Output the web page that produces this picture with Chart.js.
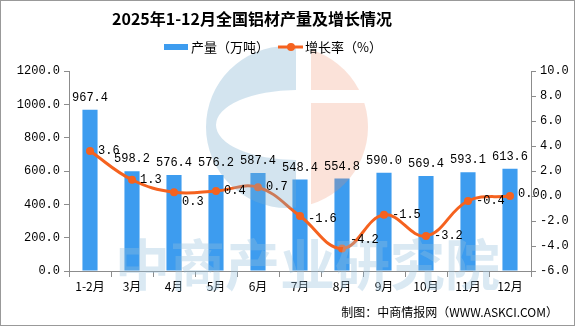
<!DOCTYPE html>
<html>
<head>
<meta charset="utf-8">
<script src="https://cdn.jsdelivr.net/npm/chart.js@4"></script>
<style>
  html, body { margin: 0; padding: 0; background: #fff; }
  #wrap { width: 575px; height: 326px; position: relative; box-sizing: border-box; }
</style>
</head>
<body>
<div id="wrap"><canvas id="chart" width="575" height="326"></canvas></div>
<script>
// data
var months = ["1-2月", "3月", "4月", "5月", "6月", "7月", "8月", "9月", "10月", "11月", "12月"];
var output = [967.4, 598.2, 576.4, 576.2, 587.4, 548.4, 554.8, 590.0, 569.4, 593.1, 613.6];
var growth = [3.6, 1.3, 0.3, 0.4, 0.7, -1.6, -4.2, -1.5, -3.2, -0.4, 0.0];

var chartTitle = "2025年1-12月全国铝材产量及增长情况";
var barName = "产量（万吨）";
var lineName = "增长率（%）";
var footer = "制图：中商情报网（WWW.ASKCI.COM）";
var watermark = "中商产业研究院";

var BLUE = "#3d9cef";
var ORANGE = "#f5621f";
var AXIS = "#8c8c8c";
var numFont = "'Liberation Mono', 'DejaVu Sans Mono', monospace";
var cjkFont = "'Noto Sans CJK SC', sans-serif";

// faint logo + watermark drawn over the bars
function drawLogo(ctx) {
    var cx = 287, cy = 127, r = 81;
    ctx.save();
    // blue C
    ctx.beginPath();
    ctx.rect(0, 0, 296, 326);
    ctx.clip();
    ctx.beginPath();
    ctx.arc(cx, cy, r, 0, Math.PI * 2);
    ctx.ellipse(296, 125, 80, 35, 0, 0, Math.PI * 2);
    ctx.fillStyle = "rgba(120, 172, 205, 0.33)";
    ctx.fill('evenodd');
    ctx.restore();

    // peach half
    ctx.save();
    ctx.beginPath();
    ctx.rect(311, 0, 100, 90);
    ctx.rect(311, 103, 100, 200);
    ctx.clip();
    ctx.beginPath();
    ctx.arc(cx, cy, r, 0, Math.PI * 2);
    ctx.fillStyle = "rgba(240, 140, 105, 0.25)";
    ctx.fill();
    ctx.restore();
}

var decorPlugin = {
    id: 'decor',
    afterDatasetsDraw: function(chart) {
        var ctx = chart.ctx;
        drawLogo(ctx);
        ctx.save();
        ctx.fillStyle = "rgba(150, 192, 222, 0.35)";
        ctx.font = "bold 55px " + cjkFont;
        ctx.textAlign = "left";
        ctx.textBaseline = "middle";
        ctx.fillText(watermark, 115, 264);
        ctx.restore();
    },
    afterDraw: function(chart) {
        var ctx = chart.ctx;
        ctx.save();
        // border
        ctx.strokeStyle = "#999";
        ctx.lineWidth = 1;
        ctx.strokeRect(0.5, 0.5, 574, 325);

        // title
        ctx.fillStyle = "#000";
        ctx.font = "bold 16px " + cjkFont;
        ctx.textAlign = "center";
        ctx.textBaseline = "middle";
        ctx.fillText(chartTitle, 252, 19);

        // legend
        ctx.font = "13px " + cjkFont;
        ctx.textAlign = "left";
        ctx.fillStyle = BLUE;
        ctx.fillRect(164, 44, 24, 6);
        ctx.fillStyle = "#000";
        ctx.fillText(barName, 191, 47);
        ctx.strokeStyle = ORANGE;
        ctx.lineWidth = 3;
        ctx.beginPath();
        ctx.moveTo(278, 47);
        ctx.lineTo(303, 47);
        ctx.stroke();
        ctx.fillStyle = ORANGE;
        ctx.beginPath();
        ctx.arc(291, 47, 4, 0, Math.PI * 2);
        ctx.fill();
        ctx.fillStyle = "#000";
        ctx.fillText(lineName, 305, 47);

        // footer
        ctx.font = "12px " + cjkFont;
        ctx.textAlign = "right";
        ctx.fillText(footer, 558, 312);

        // bar value labels
        ctx.font = "12px " + numFont;
        ctx.textAlign = "center";
        ctx.textBaseline = "bottom";
        var bars = chart.getDatasetMeta(0).data;
        bars.forEach(function(b, i) {
            ctx.fillText(output[i].toFixed(1), b.x, b.y - 6);
        });

        // line value labels
        ctx.textAlign = "left";
        ctx.textBaseline = "middle";
        var pts = chart.getDatasetMeta(1).data;
        pts.forEach(function(p, i) {
            var dy = 0;
            if (growth[i] === 0.3) dy = 10;
            if (growth[i] === -4.2) dy = -9;
            if (growth[i] === -1.6) dy = 3;
            if (growth[i] === 0) dy = -2;
            ctx.fillText(growth[i].toFixed(1), p.x + 8, p.y + dy);
        });
        ctx.restore();
    }
};

var ctx = document.getElementById("chart");
var myChart = new Chart(ctx, {
    data: {
        labels: months,
        datasets: [
            {
                type: 'bar',
                label: barName,
                data: output,
                backgroundColor: BLUE,
                yAxisID: 'y',
                barPercentage: 0.36,
                categoryPercentage: 1.0,
                order: 2
            },
            {
                type: 'line',
                label: lineName,
                data: growth,
                borderColor: ORANGE,
                backgroundColor: ORANGE,
                borderWidth: 3,
                pointRadius: 4,
                pointBackgroundColor: ORANGE,
                pointBorderWidth: 0,
                tension: 0.4,
                yAxisID: 'y1',
                order: 1
            }
        ]
    },
    options: {
        responsive: false,
        animation: false,
        layout: { padding: { left: 9, right: 0, top: 71, bottom: 25 } },
        plugins: {
            legend: { display: false },
            title: { display: false },
            tooltip: { enabled: false }
        },
        scales: {
            x: {
                offset: true,
                grid: { display: true, drawOnChartArea: false, color: AXIS, tickLength: 6, offset: true },
                border: { color: AXIS },
                ticks: { color: "#000", font: { family: cjkFont, size: 12 }, padding: 2, maxRotation: 0 },
                afterFit: function(s) { s.height = 30; }
            },
            y: {
                position: 'left',
                min: 0, max: 1200,
                ticks: {
                    stepSize: 200, color: "#000", padding: 4,
                    font: { family: numFont, size: 12 },
                    callback: function(v) { return v.toFixed(1); }
                },
                grid: { display: true, drawOnChartArea: false, color: AXIS, tickLength: 5 },
                border: { color: AXIS },
                afterFit: function(s) { s.width = 60; }
            },
            y1: {
                position: 'right',
                min: -6, max: 10,
                ticks: {
                    stepSize: 2, color: "#000", padding: 4,
                    font: { family: numFont, size: 12 },
                    callback: function(v) { return v.toFixed(1); }
                },
                grid: { display: true, drawOnChartArea: false, color: AXIS, tickLength: 5 },
                border: { color: AXIS },
                afterFit: function(s) { s.width = 44; }
            }
        }
    },
    plugins: [decorPlugin]
});
</script>
</body>
</html>
